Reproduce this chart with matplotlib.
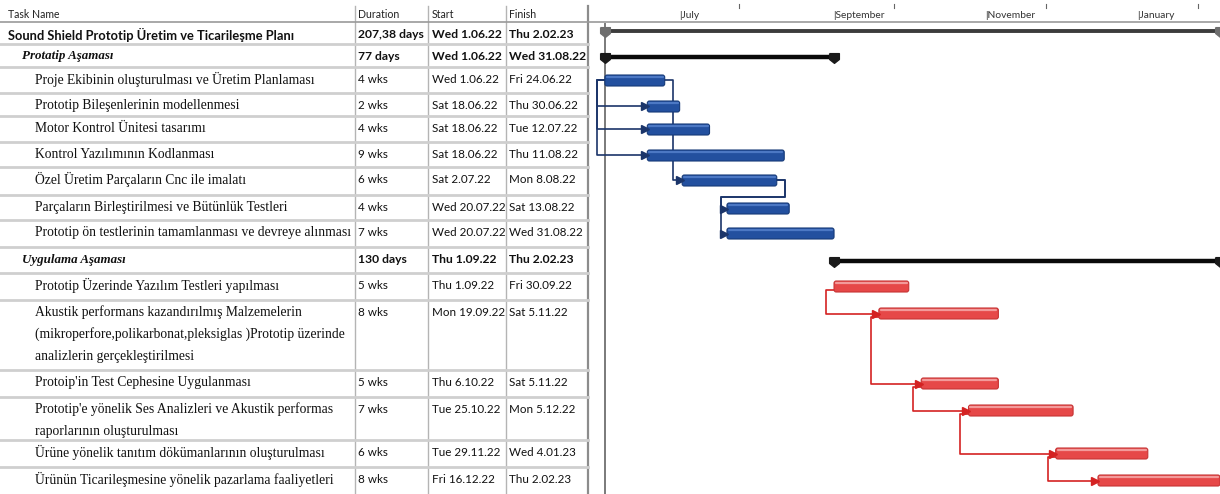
import datetime as dt
import matplotlib
matplotlib.use('Agg')
import matplotlib.pyplot as plt
import matplotlib.dates as mdates
from matplotlib.patches import FancyBboxPatch
from matplotlib.path import Path

# ---- task table ----
task_names = [
    'Sound Shield Prototip Üretim ve Ticarileşme Planı',
    'Protatip Aşaması',
    'Proje Ekibinin oluşturulması ve Üretim Planlaması',
    'Prototip Bileşenlerinin modellenmesi',
    'Motor Kontrol Ünitesi tasarımı',
    'Kontrol Yazılımının Kodlanması',
    'Özel Üretim Parçaların Cnc ile imalatı',
    'Parçaların Birleştirilmesi ve Bütünlük Testleri',
    'Prototip ön testlerinin tamamlanması ve devreye alınması',
    'Uygulama Aşaması',
    'Prototip Üzerinde Yazılım Testleri yapılması',
    'Akustik performans kazandırılmış Malzemelerin\n'
    '(mikroperfore,polikarbonat,pleksiglas )Prototip üzerinde\n'
    'analizlerin gerçekleştirilmesi',
    "Protoip'in Test Cephesine Uygulanması",
    "Prototip'e yönelik Ses Analizleri ve Akustik performas\n"
    'raporlarının oluşturulması',
    'Ürüne yönelik tanıtım dökümanlarının oluşturulması',
    'Ürünün Ticarileşmesine yönelik pazarlama faaliyetleri',
]
durations = ['207,38 days', '77 days', '4 wks', '2 wks', '4 wks', '9 wks', '6 wks',
             '4 wks', '7 wks', '130 days', '5 wks', '8 wks', '5 wks', '7 wks',
             '6 wks', '8 wks']
start_labels = ['Wed 1.06.22', 'Wed 1.06.22', 'Wed 1.06.22', 'Sat 18.06.22',
                'Sat 18.06.22', 'Sat 18.06.22', 'Sat 2.07.22', 'Wed 20.07.22',
                'Wed 20.07.22', 'Thu 1.09.22', 'Thu 1.09.22', 'Mon 19.09.22',
                'Thu 6.10.22', 'Tue 25.10.22', 'Tue 29.11.22', 'Fri 16.12.22']
finish_labels = ['Thu 2.02.23', 'Wed 31.08.22', 'Fri 24.06.22', 'Thu 30.06.22',
                 'Tue 12.07.22', 'Thu 11.08.22', 'Mon 8.08.22', 'Sat 13.08.22',
                 'Wed 31.08.22', 'Thu 2.02.23', 'Fri 30.09.22', 'Sat 5.11.22',
                 'Sat 5.11.22', 'Mon 5.12.22', 'Wed 4.01.23', 'Thu 2.02.23']
# 0 = project, 1 = phase summary, 2 = task
levels = [0, 1, 2, 2, 2, 2, 2, 2, 2, 1, 2, 2, 2, 2, 2, 2]
# phase of each task: 'p' = prototype (blue), 'u' = application (red)
phases = ['-', '-', 'p', 'p', 'p', 'p', 'p', 'p', 'p', '-', 'u', 'u', 'u', 'u', 'u', 'u']
# predecessor links (from, to, type)
links = [(2, 3, 'SS'), (2, 4, 'SS'), (2, 5, 'SS'), (2, 6, 'FS'), (6, 7, 'FS'),
         (6, 8, 'FS'), (10, 11, 'SS'), (11, 12, 'SS'), (12, 13, 'SS'),
         (13, 14, 'SS'), (14, 15, 'SS')]
months = ['July', 'September', 'November', 'January']
month_dates = ['2022-07-01', '2022-09-01', '2022-11-01', '2023-01-01']

W, H = 1220, 494
row_edges = [22, 44, 67, 93, 116, 142, 167, 195, 220, 247, 273, 300, 370,
             397, 440, 467, 494]
line_gap = 22
split_x = 590


def parse(label):
    return dt.datetime.strptime(label.split()[1], '%d.%m.%y')


starts = [parse(s) for s in start_labels]
ends = [parse(s) + dt.timedelta(days=1) for s in finish_labels]
first_line = [row_edges[i] + 12.5 for i in range(len(task_names))]

fig = plt.figure(figsize=(W / 100, H / 100), dpi=100)
fig.patch.set_facecolor('white')

# ---- left table ----
ax_t = fig.add_axes([0, 0, split_x / W, 1])
ax_t.set_xlim(0, split_x)
ax_t.set_ylim(H, 0)
ax_t.axis('off')

col_x = [355, 428, 506, 588]
for x in col_x[:3]:
    ax_t.plot([x, x], [6, H], color='#b4b4b4', lw=1)
ax_t.plot([588, 588], [6, H], color='#8c8c8c', lw=1.6)
ax_t.plot([0, split_x], [22, 22], color='#9a9a9a', lw=1.2)
for y in row_edges[1:-1]:
    ax_t.plot([0, 588], [y, y], color='#cfcfcf', lw=2)

hdr = dict(fontsize=7.6, family='Lato', color='#222222', va='center')
ax_t.text(8, 14, 'Task Name', **hdr)
ax_t.text(358, 14, 'Duration', **hdr)
ax_t.text(432, 14, 'Start', **hdr)
ax_t.text(509, 14, 'Finish', **hdr)

for i, name in enumerate(task_names):
    y0 = first_line[i]
    if levels[i] == 0:
        ax_t.text(8, y0, name, fontsize=9.3, family='Lato', weight='bold',
                  va='center', color='#111111')
    elif levels[i] == 1:
        ax_t.text(22, y0, name, fontsize=9.4, family='Liberation Serif',
                  weight='bold', style='italic', va='center', color='#111111')
    else:
        for k, line in enumerate(name.split('\n')):
            ax_t.text(35, y0 + k * line_gap, line, fontsize=9.8,
                      family='Liberation Serif', va='center', color='#111111')
    bold = levels[i] < 2
    fs = 8.7 if bold else 8.4
    kw = dict(fontsize=fs, family='Lato', weight='bold' if bold else 'normal',
              va='center', color='#111111')
    ax_t.text(358, y0, durations[i], **kw)
    ax_t.text(432, y0, start_labels[i], **kw)
    ax_t.text(509, y0, finish_labels[i], **kw)

# ---- gantt chart ----
ax_g = fig.add_axes([split_x / W, 0, (W - split_x) / W, 1])
g_left = dt.datetime(2022, 5, 26)
g_right = dt.datetime(2023, 2, 3)
ax_g.set_xlim(g_left, g_right)
ax_g.set_ylim(H, 0)
ax_g.axis('off')
px_day = (W - split_x) / (g_right - g_left).days


def px(n):
    return dt.timedelta(days=n / px_day)


ax_g.axhline(22, color='#9a9a9a', lw=1.2)
for name, d in zip(months, month_dates):
    ax_g.text(dt.datetime.fromisoformat(d) - px(1), 15, '|' + name, fontsize=7.4,
              family='Lato', color='#333333', va='center', ha='left')
    ax_g.plot([dt.datetime.fromisoformat(d) + dt.timedelta(days=24)] * 2, [4, 8],
              color='#666666', lw=0.8)

# project start line
ax_g.plot([starts[0], starts[0]], [24, H], color='#7a7a7a', lw=1.4, zorder=1)

summary_marker = Path([(-1, 1), (1, 1), (1, -0.2), (0, -1), (-1, -0.2), (-1, 1)])

for i in range(len(task_names)):
    y0 = first_line[i]
    if levels[i] < 2:
        col = '#3c3c3c' if levels[i] == 0 else '#0a0a0a'
        lw = 2.8 if levels[i] == 0 else 3.2
        yy = y0 - 3 if levels[i] == 0 else y0 + 1
        ax_g.plot([starts[i], ends[i]], [yy, yy], color=col, lw=lw,
                  solid_capstyle='butt', zorder=3)
        mcol = '#6e6e6e' if levels[i] == 0 else '#1a1a1a'
        ax_g.plot([starts[i], ends[i]], [yy + 1, yy + 1], ls='none',
                  marker=summary_marker, ms=7, color=mcol, zorder=4)
        continue
    if phases[i] == 'p':
        body, edge, hi = '#23509f', '#163a78', '#4c78c4'
    else:
        body, edge, hi = '#e64848', '#c63434', '#f39a9a'
    x0 = mdates.date2num(starts[i])
    w = mdates.date2num(ends[i]) - x0
    bar = FancyBboxPatch((x0, y0 - 4.5), w, 11,
                         boxstyle='round,pad=0,rounding_size=0.9',
                         mutation_aspect=px_day, fc=body, ec=edge, lw=0.8,
                         zorder=3)
    ax_g.add_patch(bar)
    ax_g.plot([starts[i] + px(2), ends[i] - px(2)], [y0 - 2.2, y0 - 2.2],
              color=hi, lw=1.6, solid_capstyle='round', zorder=4)

# dependency links
for a, b, kind in links:
    col = '#1b356a' if phases[a] == 'p' else '#d42222'
    ya = first_line[a] + (1 if phases[a] == 'p' else 4)
    yb = first_line[b] + 1
    if kind == 'SS':
        xv = starts[a] - px(8)
        xs = [starts[a], xv, xv, starts[b] - px(2)]
        ys = [ya, ya, yb, yb]
    else:
        xr = ends[a] + px(8)
        if starts[b] >= xr + px(2):
            xs = [ends[a], xr, xr, starts[b] - px(2)]
            ys = [ya, ya, yb, yb]
        else:
            ymid = row_edges[a + 1] + 2
            xl = starts[b] - px(5.5)
            xs = [ends[a], xr, xr, xl, xl, starts[b] - px(2)]
            ys = [ya, ya, ymid, ymid, yb, yb]
    ax_g.plot(xs, ys, color=col, lw=1.2, zorder=2,
              solid_joinstyle='round')
    ax_g.plot([starts[b] - px(2.5)], [yb], marker='>', ms=6, color=col,
              ls='none', zorder=5)

fig.savefig('out.png', dpi=100, facecolor='white')
